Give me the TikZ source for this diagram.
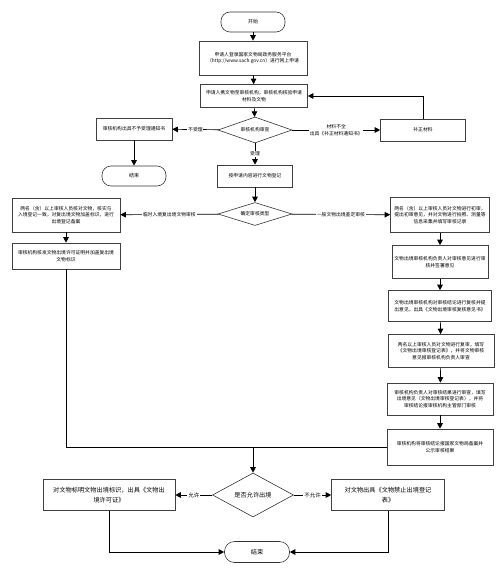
\documentclass[tikz,border=0pt]{standalone}
\usepackage{fontspec}
\setmainfont{Noto Sans CJK SC}
\usetikzlibrary{shapes.geometric,arrows.meta}
\begin{document}
\begin{tikzpicture}[x=1pt, y=-1pt,
        box/.style={draw=black!75, line width=0.6pt, align=center, inner sep=1pt, font=\fontsize{4.8}{6.6}\selectfont},
        bigbox/.style={box, font=\fontsize{6.2}{10}\selectfont},
        term/.style={draw=black!80, line width=0.6pt, rounded corners=9pt, minimum width=64pt, minimum height=20pt},
        decision/.style={draw=black!80, line width=0.6pt, diamond, inner sep=0pt, aspect=2.8, font=\fontsize{4.8}{6.6}\selectfont},
        lbl/.style={fill=white, inner sep=0.8pt, align=center, font=\fontsize{4.8}{6.6}\selectfont},
        arr/.style={line width=0.7pt, -{Triangle[length=5.5pt,width=5.5pt]}}]
        \useasboundingbox (0,0) rectangle (499,578);
        \node[term, font=\fontsize{5}{6}\selectfont] (start) at (253,22) {开始};
        \node[box, minimum width=108pt, minimum height=34pt] (apply) at (253,58) {申请人登录国家文物局政务服务平台\\（http://www.sach.gov.cn）进行网上申请};
        \node[box, minimum width=107pt, minimum height=23pt] (check) at (254,96) {申请人携文物至审核机构，审核机构核验申请\\材料及文物};
        \node[decision, minimum width=74pt, minimum height=26pt] (accept) at (255,130) {审核机构审查};
        \node[box, minimum width=76pt, minimum height=22pt] (reject) at (134,129) {审核机构出具不予受理通知书};
        \node[term, font=\fontsize{5}{6}\selectfont] (end1) at (134,176) {结束};
        \node[box, minimum width=85pt, minimum height=22pt] (supply) at (423,130) {补正材料};
        \node[box, minimum width=75pt, minimum height=22pt] (record) at (255,176) {按申请内容进行文物登记};
        \node[decision, minimum width=74pt, minimum height=23pt, aspect=3.4] (kind) at (255,214) {确定审核类型};
        % left branch
        \node[box, minimum width=108pt, minimum height=34pt] (L1) at (66,215) {两名（含）以上审核人员核对文物，核实与\\入境登记一致，对复出境文物加盖标识，进行\\出境登记备案};
        \node[box, minimum width=108pt, minimum height=26pt] (L2) at (66,256) {审核机构核发文物出境许可证明并加盖复出境\\文物标识};
        % right branch
        \node[box, minimum width=99pt, minimum height=35pt] (R1) at (440,215) {两名（含）以上审核人员对文物进行初审，\\提出初审意见，并对文物进行拍照、测量等\\信息采集并填写审核记录};
        \node[box, minimum width=96pt, minimum height=33pt] (R2) at (440,262) {文物出境审核机构负责人对审核意见进行审\\核并签署意见};
        \node[box, minimum width=103pt, minimum height=31pt] (R3) at (440,306) {文物出境审核机构对审核结论进行复核并提\\出意见，出具《文物出境审核复核意见书》};
        \node[box, minimum width=106pt, minimum height=33pt] (R4) at (441,351) {两名以上审核人员对文物进行复审，填写\\《文物出境审核登记表》，并将文物审核\\意见报审核机构负责人审查};
        \node[box, minimum width=106pt, minimum height=32pt] (R5) at (440,399) {审核机构负责人对审核结果进行审查，填写\\出境意见（文物出境审核登记表），并将\\审核结论报审核机构主管部门审核};
        \node[box, minimum width=106pt, minimum height=36pt] (R6) at (440,447) {审核机构将审核结论报国家文物局备案并\\公示审核结果};
        \coordinate (join) at (253,447);
        % final decision
        \node[decision, minimum width=81pt, minimum height=44pt, aspect=1.8, font=\fontsize{6.2}{8}\selectfont] (allow) at (253,495) {是否允许出境};
        \node[bigbox, minimum width=132pt, minimum height=31pt] (permit) at (109,495) {对文物标明文物出境标识，出具《文物出\\境许可证》};
        \node[bigbox, minimum width=113pt, minimum height=31pt] (forbid) at (388,495) {对文物出具《文物禁止出境登记\\表》};
        \node[term, minimum width=65pt, minimum height=21pt, rounded corners=10pt, font=\fontsize{6.2}{8}\selectfont] (end2) at (257,552) {结束};
        \draw[arr] (start) -- (apply);
        \draw[arr] (apply) -- (check);
        \draw[arr] (check) -- (accept);
        \draw[arr] (accept) -- node[lbl] {不受理} (reject);
        \draw[arr] (reject) -- (end1);
        \draw[arr] (accept) -- node[lbl] {材料不全\\出具《补正材料通知书》} (supply);
        \draw[arr] (supply.north) |- (check.east);
        \draw[arr] (accept) -- node[lbl] {受理} (record);
        \draw[arr] (record) -- (kind);
        \draw[arr] (kind) -- node[lbl] {临时入境复出境文物审核} (L1);
        \draw[arr] (L1) -- (L2);
        \draw[arr] (kind) -- node[lbl] {一般文物出境鉴定审核} (R1);
        \draw[arr] (R1) -- (R2);
        \draw[arr] (R2) -- (R3);
        \draw[arr] (R3) -- (R4);
        \draw[arr] (R4) -- (R5);
        \draw[arr] (R5) -- (R6);
        \draw[line width=0.7pt] (L2.south) |- (R6.west);
        \draw[arr] (join) -- (allow);
        \draw[arr] (allow) -- node[lbl, font=\fontsize{5.5}{7}\selectfont] {允许} (permit);
        \draw[arr] (allow) -- node[lbl, font=\fontsize{5.5}{7}\selectfont] {不允许} (forbid);
        \draw[arr] (permit.south) |- (end2.west);
        \draw[arr] (forbid.south) |- (end2.east);
    \end{tikzpicture}
\end{document}
